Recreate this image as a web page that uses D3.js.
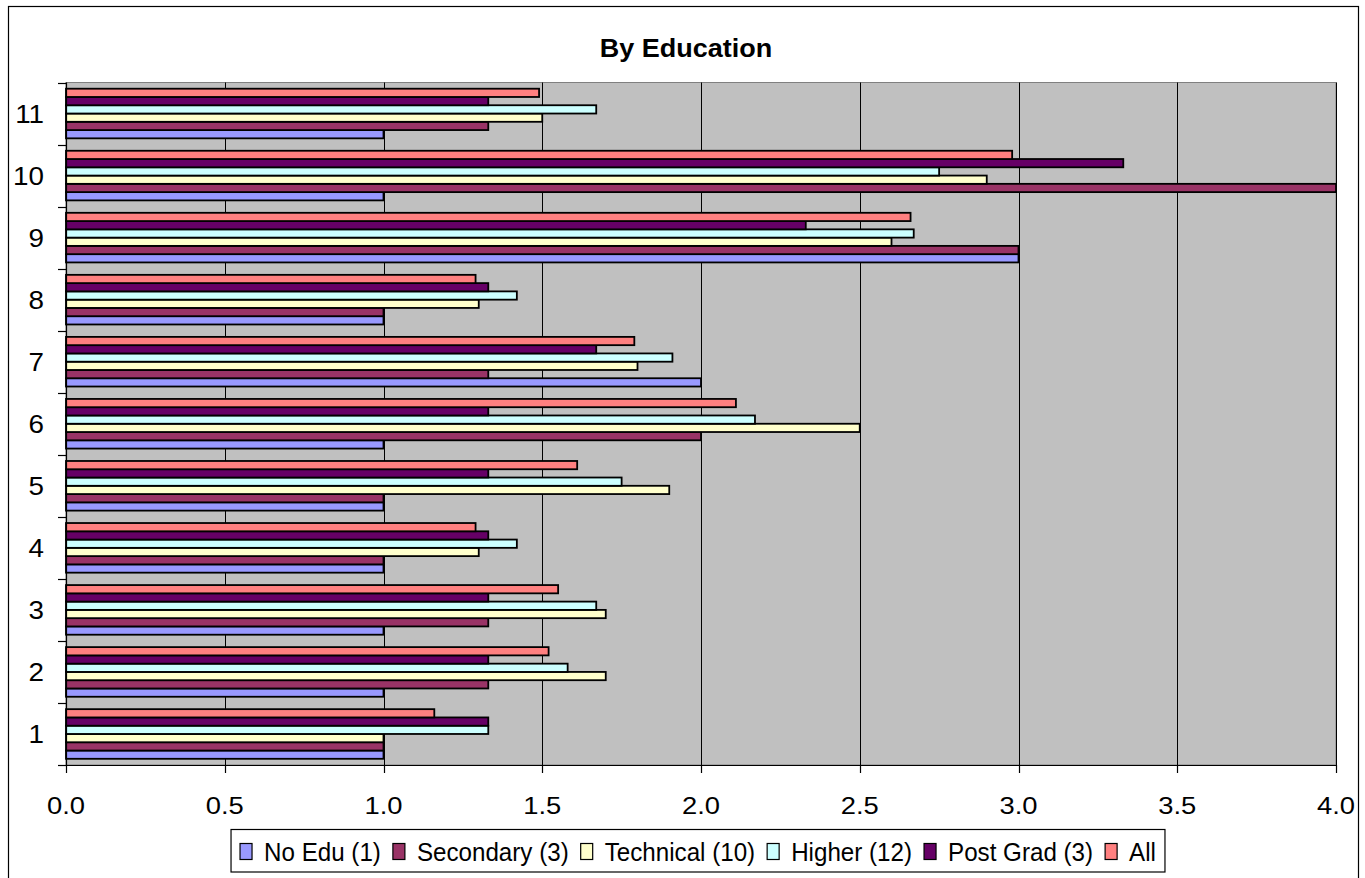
<!DOCTYPE html>
<html>
<head>
<meta charset="utf-8">
<script src="https://cdn.jsdelivr.net/npm/d3@7"></script>
<style>
  html, body { margin: 0; padding: 0; background: #fff; }
  svg { display: block; }
  text { font-family: "Liberation Sans", Arial, sans-serif; fill: #000; }
</style>
</head>
<body>
<svg id="chart" width="1365" height="878"></svg>
<script>
// ---- Data ----
const categories = ["1","2","3","4","5","6","7","8","9","10","11"];
const seriesNames = ["No Edu (1)","Secondary (3)","Technical (10)","Higher (12)","Post Grad (3)","All"];
const seriesColors = ["#9999FF","#993366","#FFFFCC","#CCFFFF","#660066","#FF8080"];
const noEdu     = [1, 1, 1, 1, 1, 1, 2, 1, 3, 1, 1];
const secondary = [1, 1.33, 1.33, 1, 1, 2, 1.33, 1, 3, 4, 1.33];
const technical = [1, 1.7, 1.7, 1.3, 1.9, 2.5, 1.8, 1.3, 2.6, 2.9, 1.5];
const higher    = [1.33, 1.58, 1.67, 1.42, 1.75, 2.17, 1.91, 1.42, 2.67, 2.75, 1.67];
const postGrad  = [1.33, 1.33, 1.33, 1.33, 1.33, 1.33, 1.67, 1.33, 2.33, 3.33, 1.33];
const allVals   = [1.16, 1.52, 1.55, 1.29, 1.61, 2.11, 1.79, 1.29, 2.66, 2.98, 1.49];
const xTicks = [0, 0.5, 1, 1.5, 2, 2.5, 3, 3.5, 4];
const titleText = "By Education";

const seriesValues = [noEdu, secondary, technical, higher, postGrad, allVals];

// ---- Layout ----
const svg = d3.select("#chart");
const L = 66, R = 1336, T = 82.5, B = 765;

// outer frame
svg.append("rect").attr("x", 8.5).attr("y", 6.5).attr("width", 1350).attr("height", 900)
  .attr("fill", "#fff").attr("stroke", "#000").attr("stroke-width", 1.2);

const x = d3.scaleLinear().domain([0, 4]).range([L, R]);
const y0 = d3.scaleBand().domain(categories.slice().reverse()).range([T, B]).padding(0);
const y1 = d3.scaleBand().domain(d3.range(seriesNames.length).reverse())
  .range([0, y0.bandwidth()]).paddingInner(0).paddingOuter(0.75);

// plot background
svg.append("rect").attr("x", L).attr("y", T).attr("width", R - L).attr("height", B - T)
  .attr("fill", "#C0C0C0").attr("stroke", "#808080").attr("stroke-width", 1);

// gridlines
svg.append("g").selectAll("line").data(xTicks.filter(d => d > 0)).join("line")
  .attr("x1", d => Math.round(x(d)) + 0.5).attr("x2", d => Math.round(x(d)) + 0.5)
  .attr("y1", T).attr("y2", B)
  .attr("stroke", "#000").attr("stroke-width", 1);

// bars
const bars = [];
categories.forEach((c, ci) => {
  seriesValues.forEach((vals, si) => bars.push({c, si, v: vals[ci]}));
});
svg.append("g").selectAll("rect").data(bars).join("rect")
  .attr("x", L)
  .attr("y", d => y0(d.c) + y1(d.si))
  .attr("width", d => x(d.v) - L)
  .attr("height", y1.bandwidth())
  .attr("fill", d => seriesColors[d.si])
  .attr("stroke", "#000").attr("stroke-width", 1.8);

// y axis line and ticks
svg.append("line").attr("x1", L + 0.5).attr("x2", L + 0.5).attr("y1", T).attr("y2", B)
  .attr("stroke", "#000").attr("stroke-width", 1.2);
const yTickPos = categories.map(c => y0(c)).concat([B]);
svg.append("g").selectAll("line").data(yTickPos).join("line")
  .attr("x1", L - 8).attr("x2", L).attr("y1", d => Math.round(d) + 0.5).attr("y2", d => Math.round(d) + 0.5)
  .attr("stroke", "#000").attr("stroke-width", 1.2);
svg.append("g").selectAll("text").data(categories).join("text")
  .attr("text-anchor", "end")
  .attr("font-size", 26)
  .attr("transform", d => `translate(44,${y0(d) + y0.bandwidth() / 2 + 9}) scale(1.07,1)`)
  .text(d => d);

// x axis line and ticks
svg.append("line").attr("x1", L).attr("x2", R).attr("y1", B + 0.5).attr("y2", B + 0.5)
  .attr("stroke", "#000").attr("stroke-width", 1.2);
svg.append("g").selectAll("line").data(xTicks).join("line")
  .attr("x1", d => Math.round(x(d)) + 0.5).attr("x2", d => Math.round(x(d)) + 0.5)
  .attr("y1", B).attr("y2", B + 8)
  .attr("stroke", "#000").attr("stroke-width", 1.2);
svg.append("g").selectAll("text").data(xTicks).join("text")
  .attr("text-anchor", "middle")
  .attr("font-size", 24)
  .attr("transform", d => `translate(${x(d)},814) scale(1.14,1)`)
  .text(d => d.toFixed(1));

// title
svg.append("text").attr("text-anchor", "middle").attr("font-size", 25).attr("font-weight", "bold")
  .attr("transform", "translate(686,57) scale(1.08,1)")
  .text(titleText);

// legend
const lg = svg.append("g");
const sx = 0.93, swW = 12, swH = 16, gapIn = 12, gapOut = 12;
let cx = 0;
seriesNames.forEach((name, i) => {
  lg.append("rect").attr("x", cx).attr("y", 843.5).attr("width", swW).attr("height", swH)
    .attr("fill", seriesColors[i]).attr("stroke", "#000").attr("stroke-width", 1.2);
  const t = lg.append("text").attr("font-size", 26).text(name);
  const tx = cx + swW + gapIn;
  t.attr("transform", `translate(${tx},861) scale(${sx},1)`);
  const w = t.node().getComputedTextLength() * sx;
  cx = tx + w + gapOut;
});
const contentW = cx - gapOut;
const legendCenter = 698;
const offset = legendCenter - contentW / 2;
lg.attr("transform", `translate(${offset},0)`);
svg.insert("rect", "g:last-child")
  .attr("x", offset - 9).attr("y", 829.5).attr("width", contentW + 18).attr("height", 42.5)
  .attr("fill", "#fff").attr("stroke", "#000").attr("stroke-width", 1.2);
</script>
</body>
</html>
